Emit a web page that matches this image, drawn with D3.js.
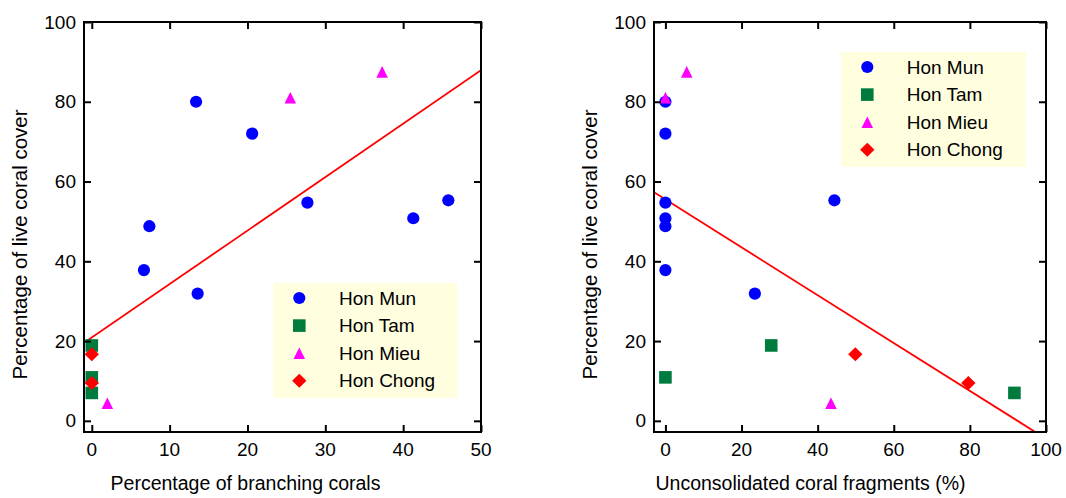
<!DOCTYPE html>
<html>
<head>
<meta charset="utf-8">
<script src="https://cdn.jsdelivr.net/npm/d3@7"></script>
<style>
  html, body { margin: 0; padding: 0; background: #fff; }
  svg { display: block; }
  text { font-family: "Liberation Sans", Arial, sans-serif; fill: #000; }
</style>
</head>
<body>
<svg id="chart" width="1066" height="498"></svg>
<script>
// ---- data ----
const groups = ["Hon Mun", "Hon Tam", "Hon Mieu", "Hon Chong"];
const groupColors = ["#0000ff", "#007b3e", "#ff00ff", "#ff0000"];

const munCover      = [80, 72, 48.8, 54.7, 50.8, 55.3, 37.8, 31.9];
const munBranching  = [13.4, 20.6, 7.4, 27.7, 41.3, 45.8, 6.7, 13.6];
const munFragments  = [0, 0, 0, 0, 0, 44.4, 0, 23.5];

const tamCover      = [18.9, 10.9, 7.0];
const tamBranching  = [0, 0, 0];
const tamFragments  = [27.8, 0, 91.7];

const mieuCover     = [81, 87.5, 4.4];
const mieuBranching = [25.5, 37.3, 2.0];
const mieuFragments = [0, 5.6, 43.5];

const chongCover     = [16.7, 9.5];
const chongBranching = [0, 0];
const chongFragments = [49.9, 79.6];

const leftFit  = [20.9, 1.34];   // intercept, slope
const rightFit = [55.5, -0.6];

const xTicksLeft  = [0, 10, 20, 30, 40, 50];
const xTicksRight = [0, 20, 40, 60, 80, 100];
const yTicks      = [0, 20, 40, 60, 80, 100];

const xTitleLeft  = "Percentage of branching corals";
const xTitleRight = "Unconsolidated coral fragments (%)";
const yTitle      = "Percentage of live coral cover";

// ---- symbols ----
const symCircle = { draw(ctx) { const r = 6.1; ctx.moveTo(r, 0); ctx.arc(0, 0, r, 0, 2 * Math.PI); } };
const symSquare = { draw(ctx) { const h = 6.3; ctx.rect(-h, -h, 2 * h, 2 * h); } };
const symTriangle = { draw(ctx) { const w = 5.8, h = 5.8; ctx.moveTo(0, -h); ctx.lineTo(w, h); ctx.lineTo(-w, h); ctx.closePath(); } };
const symDiamond = { draw(ctx) { const w = 7.2, h = 7; ctx.moveTo(0, -h); ctx.lineTo(w, 0); ctx.lineTo(0, h); ctx.lineTo(-w, 0); ctx.closePath(); } };
const symbols = [symCircle, symSquare, symTriangle, symDiamond];

const svg = d3.select("#chart");

function panel(cfg) {
  const { x0, x1, y0, y1, xDomain, yDomain, xTicks, series, fit, legend, xTitle, xTitleX, yTitleX, yLabelX, id } = cfg;
  const x = d3.scaleLinear().domain(xDomain).range([x0, x1]);
  const y = d3.scaleLinear().domain(yDomain).range([y1, y0]);
  const g = svg.append("g");

  g.append("clipPath").attr("id", id).append("rect")
    .attr("x", x0).attr("y", y0).attr("width", x1 - x0).attr("height", y1 - y0);

  // legend background
  g.append("rect").attr("x", legend.x).attr("y", legend.y)
    .attr("width", legend.w).attr("height", legend.h).attr("fill", "#ffffe0");

  // regression line
  const line = d3.line().x(d => x(d)).y(d => y(fit[0] + fit[1] * d));
  g.append("path").datum(xDomain).attr("d", line)
    .attr("fill", "none").attr("stroke", "#ff0000").attr("stroke-width", 1.8)
    .attr("clip-path", `url(#${id})`);

  // points
  series.forEach((s, i) => {
    const pts = s.xs.map((v, k) => [v, s.ys[k]]);
    g.append("g").selectAll("path").data(pts).join("path")
      .attr("d", d3.symbol().type(symbols[i])())
      .attr("transform", d => `translate(${x(d[0])},${y(d[1])})`)
      .attr("fill", groupColors[i]);
  });

  // axes (ticks inward, mirrored)
  const tickLen = 7;
  const axStyle = sel => { sel.select(".domain").remove(); sel.selectAll("line").attr("stroke", "#000").attr("stroke-width", 2); sel.selectAll("text").remove(); };
  g.append("g").attr("transform", `translate(0,${y1})`).call(d3.axisTop(x).tickValues(xTicks).tickSize(tickLen)).call(axStyle);
  g.append("g").attr("transform", `translate(0,${y0})`).call(d3.axisBottom(x).tickValues(xTicks).tickSize(tickLen)).call(axStyle);
  g.append("g").attr("transform", `translate(${x0},0)`).call(d3.axisRight(y).tickValues(yTicks).tickSize(tickLen)).call(axStyle);
  g.append("g").attr("transform", `translate(${x1},0)`).call(d3.axisLeft(y).tickValues(yTicks).tickSize(tickLen)).call(axStyle);

  g.append("rect").attr("x", x0).attr("y", y0).attr("width", x1 - x0).attr("height", y1 - y0)
    .attr("fill", "none").attr("stroke", "#000").attr("stroke-width", 2);

  // tick labels
  g.append("g").selectAll("text").data(xTicks).join("text")
    .attr("x", d => x(d)).attr("y", y1 + 24).attr("text-anchor", "middle")
    .attr("font-size", 19).text(d => d);
  g.append("g").selectAll("text").data(yTicks).join("text")
    .attr("x", yLabelX).attr("y", d => y(d)).attr("dy", "0.35em").attr("text-anchor", "end")
    .attr("font-size", 19).text(d => d);

  // titles
  g.append("text").attr("x", xTitleX).attr("y", 490).attr("text-anchor", "middle")
    .attr("font-size", 19.5).text(xTitle);
  g.append("text").attr("transform", `translate(${yTitleX},244.5) rotate(-90)`)
    .attr("text-anchor", "middle").attr("font-size", 20.5).text(yTitle);

  // legend entries
  groups.forEach((name, i) => {
    const cy = legend.y + 15 + i * 27.6;
    g.append("path").attr("d", d3.symbol().type(symbols[i])())
      .attr("transform", `translate(${legend.mx},${cy})`).attr("fill", groupColors[i]);
    g.append("text").attr("x", legend.tx).attr("y", cy).attr("dy", "0.35em")
      .attr("font-size", 19).text(name);
  });
}

panel({
  id: "clipL", x0: 84, x1: 481, y0: 22, y1: 432,
  xDomain: [-1, 50], yDomain: [-2.8, 100], xTicks: xTicksLeft,
  series: [
    { xs: munBranching, ys: munCover },
    { xs: tamBranching, ys: tamCover },
    { xs: mieuBranching, ys: mieuCover },
    { xs: chongBranching, ys: chongCover }
  ],
  fit: leftFit,
  legend: { x: 273, y: 283, w: 184, h: 115, mx: 299.3, tx: 339 },
  xTitle: xTitleLeft, xTitleX: 245.5, yTitleX: 26.5, yLabelX: 76
});

panel({
  id: "clipR", x0: 654, x1: 1046, y0: 22, y1: 432,
  xDomain: [-3, 100], yDomain: [-2.8, 100], xTicks: xTicksRight,
  series: [
    { xs: munFragments, ys: munCover },
    { xs: tamFragments, ys: tamCover },
    { xs: mieuFragments, ys: mieuCover },
    { xs: chongFragments, ys: chongCover }
  ],
  fit: rightFit,
  legend: { x: 841, y: 52, w: 185, h: 115, mx: 867.3, tx: 906.7 },
  xTitle: xTitleRight, xTitleX: 810.5, yTitleX: 596.5, yLabelX: 646
});
</script>
</body>
</html>
